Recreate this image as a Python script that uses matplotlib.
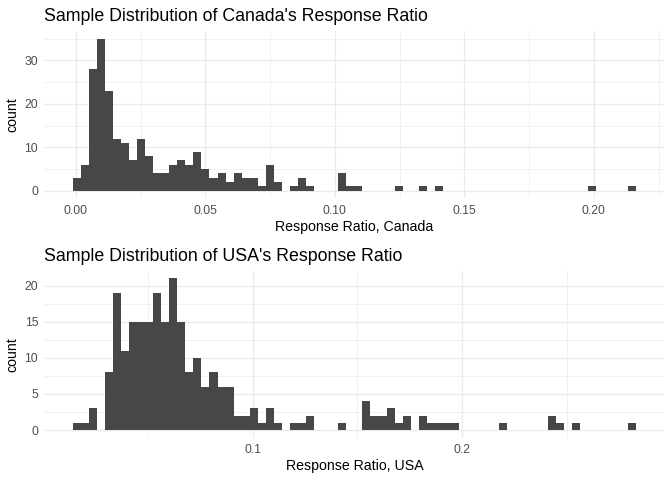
import matplotlib
matplotlib.use('Agg')
import matplotlib.pyplot as plt
from matplotlib.ticker import MultipleLocator, FixedLocator
import numpy as np

plt.rcParams['font.family'] = ['Liberation Sans', 'DejaVu Sans']

# histogram data (70 bins each)
can_min, can_max = 0.0003, 0.2147
can_counts = [3, 6, 28, 35, 23, 12, 11, 7, 12, 8,
              4, 4, 6, 7, 6, 9, 5, 3, 4, 2,
              4, 3, 3, 1, 6, 2, 0, 1, 3, 1,
              0, 0, 0, 4, 1, 1, 0, 0, 0, 0,
              1, 0, 0, 1, 0, 1, 0, 0, 0, 0,
              0, 0, 0, 0, 0, 0, 0, 0, 0, 0,
              0, 0, 0, 0, 1, 0, 0, 0, 0, 1]

usa_min, usa_max = 0.0158, 0.2812
usa_counts = [1, 1, 3, 0, 8, 19, 11, 15, 15, 15,
              19, 15, 21, 15, 8, 10, 6, 8, 6, 6,
              2, 2, 3, 1, 3, 1, 0, 1, 1, 2,
              0, 0, 0, 1, 0, 0, 4, 2, 2, 3,
              1, 2, 0, 2, 1, 1, 1, 1, 0, 0,
              0, 0, 0, 1, 0, 0, 0, 0, 0, 2,
              1, 0, 1, 0, 0, 0, 0, 0, 0, 1]

can_major = [0.0, 0.05, 0.10, 0.15, 0.20]
can_labels = ['0.00', '0.05', '0.10', '0.15', '0.20']
usa_major = [0.1, 0.2]
usa_labels = ['0.1', '0.2']

fill = '#474747'
grid_col = '#EBEBEB'
tick_col = '#4D4D4D'


def draw_hist(ax, lo, hi, counts, major, labels, minor_x, ystep, title, xlabel):
    counts = np.array(counts)
    centers = np.linspace(lo, hi, len(counts))
    w = centers[1] - centers[0]
    ax.bar(centers, counts, width=w, color=fill, linewidth=0, zorder=3)
    left = lo - w / 2
    right = hi + w / 2
    pad = (right - left) * 0.05
    ax.set_xlim(left - pad, right + pad)
    ax.set_ylim(-counts.max() * 0.05, counts.max() * 1.05)
    ax.xaxis.set_major_locator(FixedLocator(major))
    ax.set_xticklabels(labels)
    ax.xaxis.set_minor_locator(FixedLocator(minor_x))
    ax.yaxis.set_major_locator(MultipleLocator(ystep))
    ax.yaxis.set_minor_locator(MultipleLocator(ystep / 2))
    ax.grid(which='major', color=grid_col, linewidth=1.0, zorder=0)
    ax.grid(which='minor', color=grid_col, linewidth=0.5, zorder=0)
    for s in ax.spines.values():
        s.set_visible(False)
    ax.tick_params(which='both', length=0)
    ax.tick_params(axis='x', pad=4.5, labelsize=8.8, labelcolor=tick_col)
    ax.tick_params(axis='y', pad=4.5, labelsize=8.8, labelcolor=tick_col)
    ax.set_title(title, loc='left', fontsize=12.8, pad=7)
    ax.set_xlabel(xlabel, fontsize=10.2, labelpad=2.5)
    ax.set_ylabel('count', fontsize=10.2, labelpad=4)


fig = plt.figure(figsize=(6.72, 4.8), dpi=100)
ax1 = fig.add_axes([0.0662, 0.5869, 0.9222, 0.3485])
ax2 = fig.add_axes([0.0662, 0.0883, 0.9222, 0.3475])

draw_hist(ax1, can_min, can_max, can_counts, can_major, can_labels,
          [0.025, 0.075, 0.125, 0.175, 0.225], 10,
          "Sample Distribution of Canada's Response Ratio", 'Response Ratio, Canada')
draw_hist(ax2, usa_min, usa_max, usa_counts, usa_major, usa_labels,
          [0.05, 0.15, 0.25], 5,
          "Sample Distribution of USA's Response Ratio", 'Response Ratio, USA')

fig.savefig('out.png', dpi=100)
